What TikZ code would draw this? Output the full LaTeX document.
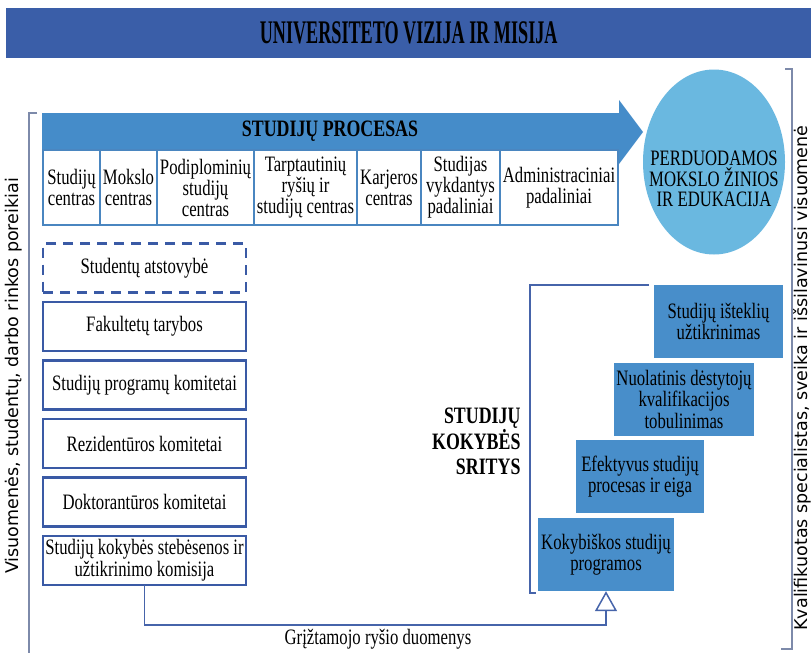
\documentclass[tikz,border=0pt]{standalone}
\usepackage{fontspec}
\setmainfont{Liberation Serif}[FakeStretch=0.76]
\newfontfamily\titlefont{Liberation Serif}[FakeStretch=0.55]
\newfontfamily\sidefont{DejaVu Sans}
\usetikzlibrary{shapes, arrows.meta, positioning}

\definecolor{visionblue}{RGB}{58,94,168}
\definecolor{processblue}{RGB}{69,140,201}
\definecolor{unitedge}{RGB}{74,134,192}
\definecolor{bodyedge}{RGB}{58,90,165}
\definecolor{knowblue}{RGB}{106,184,224}
\definecolor{areablue}{RGB}{72,142,202}
\definecolor{bracketgray}{RGB}{125,138,170}
\definecolor{feedblue}{RGB}{70,100,170}

\begin{document}
\begin{tikzpicture}[x=1pt, y=-1pt, node distance=9.5pt,
    banner/.style={fill=visionblue, minimum width=805pt, minimum height=50pt, inner sep=0pt, anchor=north west, font=\titlefont\bfseries\fontsize{33}{36}\selectfont},
    unitbox/.style={draw=unitedge, line width=2pt, fill=white, minimum height=75pt, outer sep=0pt, inner xsep=0.5pt, inner ysep=1pt, align=center, font=\fontsize{22}{21}\selectfont},
    bodybox/.style={draw=bodyedge, line width=2.2pt, fill=white, minimum width=203pt, minimum height=49pt, outer sep=0pt, inner sep=1pt, align=center, font=\fontsize{22}{22}\selectfont},
    areabox/.style={fill=areablue, minimum height=73pt, inner sep=1pt, align=center, font=\fontsize{22}{21.5}\selectfont},
    heading/.style={font=\bfseries\fontsize{23.5}{25}\selectfont},
    sidetext/.style={rotate=90, inner sep=1pt, font=\sidefont\fontsize{17.5}{20}\selectfont},
    bracket/.style={draw=bracketgray, line width=2pt},
    feedline/.style={draw=feedblue, line width=1.5pt}]
    \useasboundingbox (0,0) rectangle (811,653);
    \fill[white] (0,0) rectangle (811,653);

    % vision banner
    \node[banner] (vision) at (6,8) {UNIVERSITETO VIZIJA IR MISIJA};

    % side brackets and texts
    \draw[bracket] (37,113) -- (29,113) -- (29,653);
    \draw[bracket, line width=1.5pt] (785,69) -- (792,69) -- (792,649) -- (781,649);
    \node[sidetext] (needs) at (14,376) {Visuomenės, studentų, darbo rinkos poreikiai};
    \node[sidetext] (outcome) at (802,378) {Kvalifikuotas specialistas, sveika ir išsilavinusi visuomenė};

    % study process arrow
    \fill[processblue] (42,113) -- (619,113) -- (619,100) -- (643,132) -- (619,164) -- (619,151) -- (42,151) -- cycle;
    \node[heading] (process title) at (330,131) {STUDIJŲ PROCESAS};

    \node[unitbox, minimum width=57pt, anchor=north west] (studcentre) at (43,150) {Studijų\\centras};
    \node[unitbox, minimum width=57pt, right=0pt of studcentre] (science) {Mokslo\\centras};
    \node[unitbox, minimum width=97pt, right=0pt of science] (postgrad) {Podiplominių\\studijų\\centras};
    \node[unitbox, minimum width=103pt, right=0pt of postgrad] (intl) {Tarptautinių\\ryšių ir\\studijų centras};
    \node[unitbox, minimum width=64pt, right=0pt of intl] (career) {Karjeros\\centras};
    \node[unitbox, minimum width=79pt, right=0pt of career] (faculties) {Studijas\\vykdantys\\padaliniai};
    \node[unitbox, minimum width=118pt, right=0pt of faculties] (admin) {Administraciniai\\padaliniai};

    \node[ellipse, fill=knowblue, minimum width=142pt, minimum height=185pt, inner sep=0pt] (knowledge) at (714,162) {};
    \node[align=center, font=\fontsize{22}{20.5}\selectfont] (knowtext) at ([yshift=-17pt]knowledge.center) {PERDUODAMOS\\MOKSLO ŽINIOS\\IR EDUKACIJA};

    % bodies
    \node[bodybox, dashed, dash pattern=on 10pt off 7pt] (students) at (144.5,268) {Studentų atstovybė};
    \node[bodybox, below=of students] (councils) {Fakultetų tarybos};
    \node[bodybox, below=of councils] (progcomm) {Studijų programų komitetai};
    \node[bodybox, below=of progcomm] (residcomm) {Rezidentūros komitetai};
    \node[bodybox, below=of residcomm] (doctcomm) {Doktorantūros komitetai};
    \node[bodybox, below=of doctcomm] (commission) {Studijų kokybės stebėsenos ir\\užtikrinimo komisija};

    % quality areas
    \node[areabox, minimum width=129pt] (resources) at (718.5,321.5) {Studijų išteklių\\užtikrinimas};
    \node[areabox, minimum width=140pt] (staff) at (684,399) {Nuolatinis dėstytojų\\kvalifikacijos\\tobulinimas};
    \node[areabox, minimum width=128pt] (flow) at (640,476.5) {Efektyvus studijų\\procesas ir eiga};
    \node[areabox, minimum width=136pt] (programmes) at (606,554.5) {Kokybiškos studijų\\programos};
    \node[heading, align=right, anchor=east] (areas) at (524,441) {STUDIJŲ\\KOKYBĖS\\SRITYS};
    \draw[feedline, line width=2pt] (649,285) -- (530,285) -- (530,593) -- (536,593);

    % feedback
    \coordinate (fbturn) at (606,625);
    \draw[feedline, -{Triangle[open, length=20pt, width=22pt]}] (commission.south) |- (fbturn) -- (programmes.south);
    \node[font=\fontsize{22}{22}\selectfont] (fblabel) at (378,639) {Grįžtamojo ryšio duomenys};
\end{tikzpicture}
\end{document}
